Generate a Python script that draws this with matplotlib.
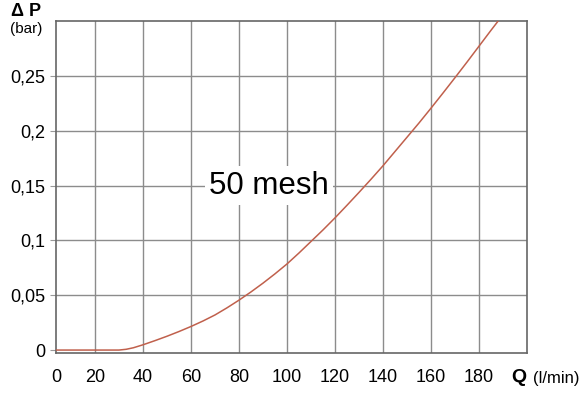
import matplotlib
matplotlib.use("Agg")
import matplotlib.pyplot as plt

plt.rcParams['font.family'] = ['Liberation Sans', 'DejaVu Sans']

# Data
flow_q = [0, 30, 33, 36, 40, 45, 50, 55, 60, 65, 70, 75, 80, 85, 90, 95, 100, 105,
          110, 115, 120, 125, 130, 135, 140, 145, 150, 155, 160, 165, 170, 175,
          180, 185, 188]
delta_p = [0, 0, 0.0007, 0.0021, 0.0048, 0.0086, 0.0126, 0.0169, 0.0215, 0.0265,
           0.032, 0.0385, 0.0455, 0.053, 0.061, 0.0695, 0.0785, 0.0885, 0.099, 0.1095,
           0.1205, 0.132, 0.1437, 0.1557, 0.168, 0.181, 0.194, 0.207, 0.2205, 0.2343,
           0.2483, 0.2625, 0.277, 0.2915, 0.3]
x_ticks = [3.75, 20, 40, 60, 80, 100, 120, 140, 160, 180]
x_tick_labels = ['0', '20', '40', '60', '80', '100', '120', '140', '160', '180']
y_ticks = [0, 0.05, 0.1, 0.15, 0.2, 0.25]
y_tick_labels = ['0', '0,05', '0,1', '0,15', '0,2', '0,25']
curve_label = '50 mesh'

fig = plt.figure(figsize=(5.81, 4.0), dpi=100)
ax = fig.add_axes([0.0964, 0.118, 0.8106, 0.8295])

ax.plot(flow_q, delta_p, color='#c0604c', lw=1.1, zorder=5)

ax.set_xlim(3.75, 200)
ax.set_ylim(-0.0025, 0.3)
ax.set_xticks(x_ticks)
ax.set_xticklabels(x_tick_labels, fontsize=13)
ax.set_yticks(y_ticks)
ax.set_yticklabels(y_tick_labels, fontsize=13)
ax.tick_params(axis='x', length=0, pad=12)
ax.tick_params(axis='y', length=4, color='#999999', pad=4)

# grid (vertical grid excludes the left-frame tick)
for x in x_ticks[1:]:
    ax.axvline(x, color='#8c8c8c', lw=1.0, zorder=1)
for y in y_ticks[1:]:
    ax.axhline(y, color='#8c8c8c', lw=1.0, zorder=1)

for s in ax.spines.values():
    s.set_color('#666666')
    s.set_linewidth(1.2)

ax.text(92.5, 0.15, curve_label, fontsize=22.5, ha='center', va='center',
        bbox=dict(facecolor='white', edgecolor='none', pad=3), zorder=4)

fig.text(0.045, 0.972, 'Δ P', fontsize=13, fontweight='bold', ha='center', va='center')
fig.text(0.045, 0.928, '(bar)', fontsize=11, ha='center', va='center')
fig.text(0.893, 0.055, 'Q', fontsize=14, fontweight='bold', ha='center', va='center')
fig.text(0.957, 0.053, '(l/min)', fontsize=12, ha='center', va='center')

fig.savefig('out.png', dpi=100)
